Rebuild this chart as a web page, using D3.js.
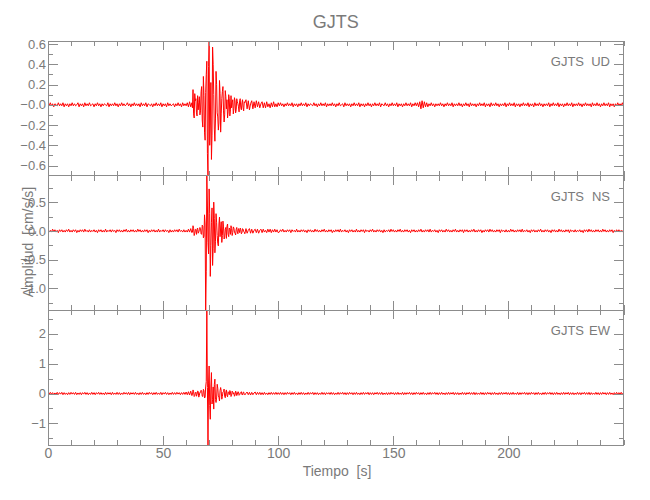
<!DOCTYPE html>
<html><head><meta charset="utf-8">
<script src="https://cdn.jsdelivr.net/npm/d3@7"></script>
<style>body{margin:0;background:#fff}</style>
</head><body><svg id="c" width="650" height="500"></svg>
<script>
// ---------------- data ----------------
const title = "GJTS";
const station = "GJTS";
const components = ["UD", "NS", "EW"];
const dt = 0.5;          // sampling step of the arrays below, seconds
const midStart = 62.75;  // extra in-between samples during the strong motion
const xTitle = "Tiempo\u00a0\u00a0[s]";
const yTitle = "Amplitud\u00a0\u00a0[cm/s/s]";

// acceleration in hundredths of cm/s/s, one value every dt seconds from t = 0
const udValues = [
1,-1,2,-1,1,-2,1,0,-1,2,-1,1,-1,2,-2,1,-1,1,-2,1,
-1,2,-1,1,-1,0,2,-2,1,-1,1,-2,2,-1,1,-1,2,-1,0,1,
-2,1,-1,2,-1,1,-2,1,-1,1,0,-1,2,-2,1,-1,1,-1,2,-1,
1,-2,1,-1,2,-1,1,-1,0,2,-1,1,-2,1,-1,2,-1,1,-1,1,
-2,2,-1,1,-1,2,-2,1,0,-1,1,-2,1,-1,2,-1,1,-1,2,-2,
1,-1,1,-2,2,-1,1,-1,0,1,-2,1,-1,2,-1,1,-2,2,-1,1,
-1,2,-2,3,-2,2,
15,-13,4,-8,9,2,-10,13,-15,28,
-27,12,43,-70,63,-20,-54,57,10,-36,
33,-8,-25,24,-27,6,18,-17,14,-4,
-13,10,-11,9,2,-9,7,-8,6,1,
-7,6,-5,5,-6,2,5,-4,4,-5,
1,4,-4,3,-3,4,-2,3,-3,1,
3,-3,2,-3,3,-2,1,-3,2,-2,
3,-2,1,-2,2,
-1,2,-1,1,-2,1,-1,2,-1,1,-1,2,-2,1,-1,1,-2,1,-1,2,
-1,1,-1,2,-2,1,-1,1,0,-1,2,-1,1,-2,1,-1,2,-1,1,-1,
2,-2,1,-1,1,-1,2,-1,1,-2,1,-1,2,-1,0,1,-2,2,-1,1,
-1,1,-2,1,-1,2,-1,1,-1,2,-2,1,-1,1,-2,1,-1,2,-1,1,
-2,1,-1,2,-1,1,-1,2,-2,1,0,-1,2,-1,1,-2,1,-1,2,-1,
1,-1,2,-2,1,-1,1,-2,1,-1,2,-1,1,-1,2,-2,1,-1,2,-1,
2,-2,3,-4,4,-3,3,-2,2,-2,1,-1,2,-1,1,-2,1,-1,1,-1,
2,-1,1,-2,1,-1,2,-1,1,-1,2,-2,1,-1,1,-1,2,-1,1,-2,
1,-1,2,-1,1,-2,2,-1,1,-1,1,-2,1,-1,2,-1,1,-1,2,-2,
1,-1,1,-2,2,-1,1,-1,2,-1,1,-2,1,-1,1,-1,2,-2,1,-1,
2,-1,1,-1,2,-2,1,-1,1,-2,1,-1,2,-1,1,-1,2,-2,1,-1,
1,-2,2,-1,1,-1,2,-1,1,-2,1,-1,1,-1,2,-2,1,-1,2,-1,
1,-1,2,-2,1,-1,1,-2,1,-1,2,-1,1,-1,2,-2,1,-1,1,-1,
2,-1,1,-2,1,-1,2,-1,1,-1,1,-2,2,-1,1,-1,2,-1,1,-2,
1,-1,2,-1,1,-1,2,-2,1,-1,1,-2,1,-1,2,-1,1,-1,2,-1
];
const udMid = [
-3,-9,11,6,-11,-5,8,-6,18,-22,
9,-35,30,-48,38,-40,22,-30,40,-24,
-14,20,-12,-18,11,-9,13,-6,-10,8,
5,-7,6,-5,-3,5,-4,4,-5,3,
-2,4,-3,2,-3,3
];
const nsValues = [
2,-2,1,-2,3,-1,2,-2,1,-3,2,-1,2,-2,1,-2,2,-1,3,-2,
1,-2,2,-1,2,-3,1,-2,2,-1,2,-2,3,-1,1,-2,2,-2,1,-1,
2,-2,1,-3,2,-1,2,-2,1,-2,3,-2,1,-1,2,-2,2,-1,1,-3,
2,-1,2,-2,1,-2,2,-1,3,-2,1,-2,2,-1,2,-2,1,-2,3,-1,
2,-2,1,-2,2,-1,2,-3,1,-2,2,-1,2,-2,1,-2,3,-2,1,-1,
2,-2,2,-1,1,-3,2,-2,1,-2,2,-1,2,-2,3,-1,1,-2,2,-2,
1,-2,3,-2,4,-3,
9,-8,3,-6,5,-2,6,-5,10,-12,
28,-138,96,-20,73,-79,15,-60,50,-38,
30,-8,-26,24,5,-20,17,-14,3,-13,
12,-10,3,9,-8,7,-2,-7,6,-5,
2,5,-5,4,-1,-5,4,-4,1,4,
-4,3,-4,1,3,-3,3,-4,1,3,
-3,3,-2,1,-3,3,-2,3,-3,2,
-2,3,-2,2,-3,
-2,2,-1,3,-2,1,-2,2,-1,2,-3,2,-1,1,-2,3,-2,1,-2,2,
-1,2,-2,1,-3,2,-1,2,-2,1,-2,3,-1,2,-2,1,-2,2,-1,3,
-2,1,-2,2,-1,2,-3,1,-2,2,-1,2,-2,3,-2,1,-1,2,-2,1,
-3,2,-1,2,-2,1,-2,3,-2,1,-2,2,-1,2,-3,2,-1,1,-2,2,
-1,3,-2,1,-2,2,-1,2,-2,1,-3,2,-2,1,-1,2,-2,3,-1,2,
-2,1,-2,2,-1,3,-2,1,-2,2,-1,2,-2,1,-3,2,-1,2,-2,1,
-2,2,-1,3,-2,1,-2,2,-1,2,-2,3,-2,1,-1,2,-2,1,-3,2,
-1,2,-2,1,-2,3,-1,2,-2,1,-2,2,-1,3,-2,1,-2,2,-1,2,
-3,2,-1,2,-2,1,-2,2,-1,3,-2,1,-2,2,-1,2,-3,1,-2,2,
-1,2,-2,3,-1,2,-2,1,-2,2,-1,2,-3,2,-1,1,-2,2,-2,1,
-2,3,-1,2,-2,1,-2,2,-1,2,-2,3,-2,1,-1,2,-2,1,-3,2,
-1,2,-2,1,-2,2,-1,3,-2,1,-2,2,-1,2,-2,1,-3,2,-1,2,
-2,1,-2,3,-1,2,-2,1,-2,2,-1,2,-3,2,-1,1,-2,2,-2,1,
-1,2,-2,1,-3,2,-1,2,-2,3,-1,2,-2,1,-2,2,-1,2,-2,1,
-2,3,-1,2,-2,1,-2,2,-1,2,-3,1,-2,2,-1,2,-2,1,-2,2
];
const nsMid = [
-2,4,-4,2,3,-4,2,4,-6,8,
-9,12,-70,45,-40,30,-25,40,-30,22,
-18,15,-22,12,-10,16,-8,7,-11,6,
8,-6,5,-6,4,-3,5,-4,3,-2,
4,-3,2,-3,3,-2
];
const ewValues = [
3,-3,4,-2,3,-4,2,-3,4,-3,3,-2,4,-4,3,-3,2,-4,3,-3,
4,-2,3,-3,4,-4,2,-3,3,-4,3,-2,4,-3,3,-4,2,-3,4,-3,
3,-4,3,-2,4,-3,3,-3,2,-4,4,-3,3,-2,3,-4,4,-3,2,-3,
4,-3,3,-4,2,-3,4,-2,3,-3,4,-4,3,-2,3,-3,4,-3,2,-4,
3,-3,4,-3,2,-4,3,-3,4,-2,3,-4,3,-3,4,-3,2,-3,4,-4,
3,-2,4,-3,3,-4,2,-3,4,-3,3,-3,4,-2,3,-4,3,-3,4,-3,
5,-4,6,-5,8,-7,
12,-10,3,-9,8,-12,4,11,-9,14,
-15,22,278,-172,92,-86,70,-20,-52,48,
-30,31,-8,-25,20,-19,5,15,-14,12,
-11,3,10,-10,8,-2,-9,8,-7,6,
-6,2,6,-5,5,-5,1,5,-4,4,
-5,4,-4,2,5,-4,4,-3,4,-4,
3,-4,4,-3,2,-4,3,-3,4,-3,
3,-3,4,-3,3,
-3,4,-3,3,-4,3,-3,4,-2,3,-4,3,-3,4,-3,2,-4,3,-3,4,
-3,3,-4,2,-3,4,-3,3,-2,4,-4,3,-3,3,-4,2,-3,4,-3,3,
-4,3,-2,3,-3,4,-3,3,-4,2,-3,4,-3,3,-2,4,-3,3,-4,3,
-3,4,-2,3,-4,3,-3,4,-3,2,-4,3,-3,4,-3,3,-2,4,-4,3,
-3,3,-4,3,-2,4,-3,3,-3,4,-4,2,-3,3,-4,3,-3,4,-2,3,
-4,3,-3,4,-3,2,-3,4,-4,3,-3,3,-2,4,-3,3,-4,3,-3,4,
-2,3,-4,3,-3,4,-3,2,-4,3,-3,4,-3,3,-2,4,-3,3,-4,3,
-3,4,-3,2,-4,3,-3,4,-3,3,-2,4,-4,3,-3,3,-4,2,-3,4,
-3,3,-4,3,-2,4,-3,3,-3,4,-4,3,-3,2,-3,4,-3,3,-4,3,
-3,4,-2,3,-4,3,-3,4,-3,2,-4,3,-3,4,-3,3,-2,4,-3,3,
-4,3,-3,4,-3,2,-3,4,-4,3,-3,3,-2,4,-3,3,-4,3,-3,4,
-2,3,-4,3,-3,4,-3,2,-4,3,-3,4,-3,3,-2,4,-3,3,-4,3,
-3,4,-3,2,-4,3,-3,4,-3,3,-2,4,-4,3,-3,3,-4,2,-3,4,
-3,3,-4,3,-2,4,-3,3,-3,4,-4,3,-3,2,-3,4,-3,3,-4,3,
-3,4,-2,3,-4,3,-3,4,-3,2,-4,3,-3,4,-3,3,-2,4,-3,3
];
const ewMid = [
-4,6,-7,5,-3,7,-6,4,8,-10,
9,-12,40,20,35,-40,25,-35,22,30,
-20,-15,18,-12,10,8,-10,7,-9,5,
-7,6,-4,5,-6,4,3,-5,4,-3,
5,-4,3,-3,4,-3
];

const xDomain = [0, 250];
const xTickValues = [0, 50, 100, 150, 200];
const xTickLabels = ["0", "50", "100", "150", "200"];
const xMinorStep = 10;

const udTickValues = [-0.6, -0.4, -0.2, 0, 0.2, 0.4, 0.6];
const udTickLabels = ["\u22120.6", "\u22120.4", "\u22120.2", "\u22120.0", "0.2", "0.4", "0.6"];
const nsTickValues = [-1.0, -0.5, 0, 0.5];
const nsTickLabels = ["\u22121.0", "\u22120.5", "0.0", "0.5"];
const ewTickValues = [-1, 0, 1, 2];
const ewTickLabels = ["\u22121", "0", "1", "2"];
const yMinorSteps = [0.1, 0.25, 0.5];

// ---------------- drawing ----------------
const svg = d3.select("#c");
const plotLeft = 48, plotRight = 623.5, plotTop = 41, plotBottom = 445;
const panelH = (plotBottom - plotTop) / 3;
const axisColor = "#8c8c8c", textColor = "#7a7a7a";
const font = '"Liberation Sans Narrow", "Liberation Sans", Arial, sans-serif';

const x = d3.scaleLinear().domain(xDomain).range([plotLeft, plotRight]);
const xMinor = d3.range(xDomain[0], xDomain[1] + 1e-9, xMinorStep);

const panels = [
  { comp: components[0], values: udValues, mid: udMid, ticks: udTickValues, labels: udTickLabels, minor: yMinorSteps[0] },
  { comp: components[1], values: nsValues, mid: nsMid, ticks: nsTickValues, labels: nsTickLabels, minor: yMinorSteps[1] },
  { comp: components[2], values: ewValues, mid: ewMid, ticks: ewTickValues, labels: ewTickLabels, minor: yMinorSteps[2] }
];

function styleAxis(g) {
  g.select(".domain").remove();
  g.selectAll(".tick line").attr("stroke", axisColor).attr("shape-rendering", "crispEdges");
  g.attr("font-family", font).attr("font-size", 13);
  g.selectAll(".tick text").attr("fill", textColor);
}

panels.forEach((p, i) => {
  const top = plotTop + i * panelH, bot = top + panelH;
  const pts = p.values.map((v, k) => [k * dt, v / 100])
    .concat(p.mid.map((v, k) => [midStart + k * dt, v / 100]))
    .sort((a, b) => a[0] - b[0]);
  const y = d3.scaleLinear().domain(d3.extent(pts, d => d[1])).range([bot, top]);
  const dom = y.domain();
  const minorTicks = d3.range(Math.ceil(dom[0] / p.minor), Math.floor(dom[1] / p.minor) + 1).map(k => k * p.minor);

  const g = svg.append("g");
  const clipId = "clip" + i;
  g.append("clipPath").attr("id", clipId).append("rect")
    .attr("x", plotLeft).attr("y", top).attr("width", plotRight - plotLeft).attr("height", panelH);

  const line = d3.line().x(d => x(d[0])).y(d => y(d[1]));
  g.append("path").datum(pts).attr("d", line)
    .attr("clip-path", `url(#${clipId})`)
    .attr("fill", "none").attr("stroke", "#ff0000").attr("stroke-width", 1)
    .attr("stroke-linejoin", "round");

  // frame
  g.append("rect").attr("x", plotLeft).attr("y", top)
    .attr("width", plotRight - plotLeft).attr("height", panelH)
    .attr("fill", "none").attr("stroke", axisColor).attr("shape-rendering", "crispEdges");

  // left axis
  g.append("g").attr("transform", `translate(${plotLeft},0)`)
    .call(d3.axisLeft(y).tickValues(minorTicks).tickSize(-5).tickFormat("")).call(styleAxis);
  g.append("g").attr("transform", `translate(${plotLeft},0)`)
    .call(d3.axisLeft(y).tickValues(p.ticks).tickSize(-10).tickPadding(2)
      .tickFormat((d, k) => p.labels[k])).call(styleAxis);
  // right axis
  g.append("g").attr("transform", `translate(${plotRight},0)`)
    .call(d3.axisRight(y).tickValues(minorTicks).tickSize(-5).tickFormat("")).call(styleAxis);
  g.append("g").attr("transform", `translate(${plotRight},0)`)
    .call(d3.axisRight(y).tickValues(p.ticks).tickSize(-10).tickFormat("")).call(styleAxis);
  // top axis
  g.append("g").attr("transform", `translate(0,${top})`)
    .call(d3.axisTop(x).tickValues(xMinor).tickSize(-5).tickFormat("")).call(styleAxis);
  g.append("g").attr("transform", `translate(0,${top})`)
    .call(d3.axisTop(x).tickValues(xTickValues).tickSize(-9).tickFormat("")).call(styleAxis);
  // bottom axis
  g.append("g").attr("transform", `translate(0,${bot})`)
    .call(d3.axisBottom(x).tickValues(xMinor).tickSize(-5).tickFormat("")).call(styleAxis);
  const bx = g.append("g").attr("transform", `translate(0,${bot})`)
    .call(d3.axisBottom(x).tickValues(xTickValues).tickSize(-9).tickPadding(3)
      .tickFormat((d, k) => i === panels.length - 1 ? xTickLabels[k] : "")).call(styleAxis);
  bx.attr("font-size", 14);

  // component label
  const ly = top + 25;
  g.append("text").attr("x", 584).attr("y", ly).attr("text-anchor", "end")
    .attr("font-family", font).attr("font-size", 13).attr("fill", textColor).text(station);
  g.append("text").attr("x", 610).attr("y", ly).attr("text-anchor", "end")
    .attr("font-family", font).attr("font-size", 13).attr("fill", textColor).text(p.comp);
});

// title
svg.append("text").attr("x", (plotLeft + plotRight) / 2).attr("y", 28)
  .attr("text-anchor", "middle").attr("font-family", font).attr("font-size", 18)
  .attr("fill", textColor).text(title);

// x title
svg.append("text").attr("x", 337).attr("y", 476)
  .attr("text-anchor", "middle").attr("font-family", font).attr("font-size", 14)
  .attr("fill", textColor).text(xTitle);

// y title
svg.append("text").attr("transform", `translate(33,242) rotate(-90)`)
  .attr("text-anchor", "middle").attr("font-family", font).attr("font-size", 14)
  .attr("fill", textColor).text(yTitle);
</script>
</body></html>
